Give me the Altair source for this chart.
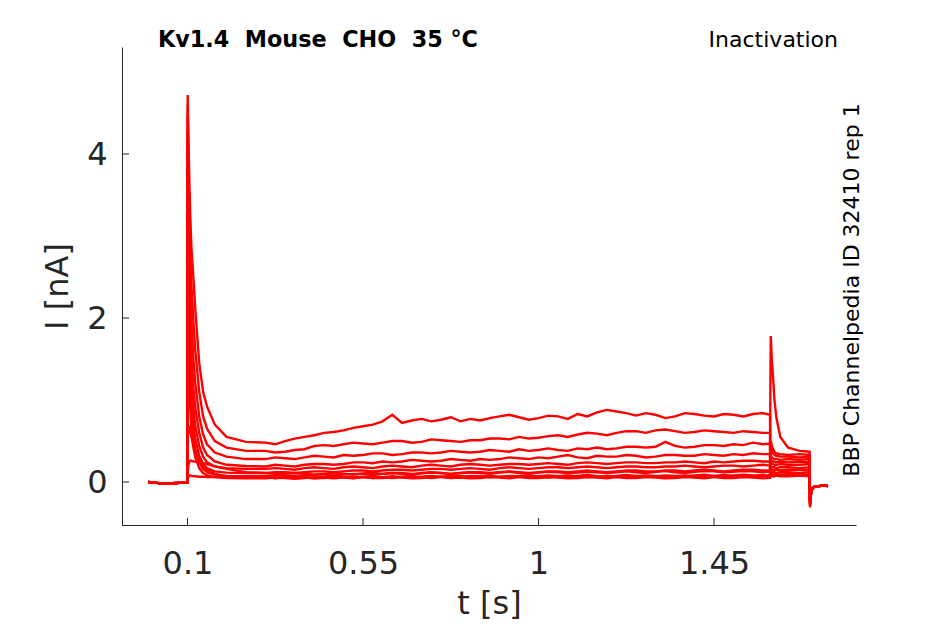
import altair as alt
import pandas as pd

# ---------------- data ----------------
SWEEPS = ["s1", "s2", "s3", "s4", "s5", "s6", "s7", "s8", "s9", "s10", "s11"]

# holding level before the prepulse (same for every sweep)
T_PRE = [0.0, 0.02, 0.04, 0.06, 0.08, 0.0995]
PRE = [0.0, -0.01, -0.02, -0.015, -0.01, -0.01]

# prepulse onset transient
T_ON = [0.1005, 0.102, 0.104, 0.107, 0.11, 0.115, 0.12, 0.13, 0.14, 0.15, 0.17, 0.2, 0.25]
ON = {
    "s1": [4.72, 4.30, 3.80, 3.25, 2.85, 2.50, 2.10, 1.45, 1.10, 0.92, 0.70, 0.55, 0.49],
    "s2": [4.60, 4.00, 3.40, 2.80, 2.40, 1.95, 1.60, 1.10, 0.80, 0.65, 0.50, 0.42, 0.38],
    "s3": [4.45, 3.70, 3.00, 2.40, 1.95, 1.50, 1.20, 0.80, 0.58, 0.46, 0.36, 0.31, 0.28],
    "s4": [4.30, 3.40, 2.60, 2.00, 1.55, 1.15, 0.90, 0.60, 0.42, 0.33, 0.25, 0.21, 0.195],
    "s5": [4.10, 3.10, 2.30, 1.65, 1.25, 0.90, 0.68, 0.44, 0.31, 0.24, 0.19, 0.17, 0.16],
    "s6": [3.80, 2.80, 2.00, 1.40, 1.00, 0.70, 0.52, 0.32, 0.22, 0.17, 0.13, 0.115, 0.11],
    "s7": [3.30, 2.40, 1.70, 1.15, 0.80, 0.55, 0.40, 0.24, 0.16, 0.12, 0.09, 0.075, 0.07],
    "s8": [2.60, 1.90, 1.35, 0.90, 0.62, 0.42, 0.30, 0.17, 0.11, 0.08, 0.06, 0.05, 0.045],
    "s9": [0.50, 0.64, 0.66, 0.62, 0.55, 0.45, 0.37, 0.26, 0.19, 0.15, 0.10, 0.07, 0.06],
    "s10": [0.12, 0.20, 0.24, 0.26, 0.26, 0.25, 0.25, 0.24, 0.23, 0.22, 0.19, 0.16, 0.12],
    "s11": [0.03, 0.06, 0.08, 0.08, 0.075, 0.07, 0.07, 0.065, 0.065, 0.06, 0.06, 0.06, 0.06],
}

# prepulse plateau
T_PLAT = [0.300, 0.325, 0.350, 0.375, 0.400, 0.425, 0.450, 0.475, 0.500, 0.525,
          0.550, 0.575, 0.600, 0.625, 0.650, 0.675, 0.700, 0.725, 0.750, 0.775,
          0.800, 0.825, 0.850, 0.875, 0.900, 0.925, 0.950, 0.975, 1.000, 1.025,
          1.050, 1.075, 1.100, 1.125, 1.150, 1.175, 1.200, 1.225, 1.250, 1.275,
          1.300, 1.325, 1.350, 1.375, 1.400, 1.425, 1.450, 1.475, 1.500, 1.525,
          1.550, 1.575, 1.5935]
PLAT = {
    "s1": [.48, .46, .50, .53, .55, .57, .60, .61, .63, .66, .68, .70, .74, .82, .72, .75,
           .77, .74, .76, .79, .74, .77, .75, .78, .80, .82, .79, .76, .78, .81, .80, .77,
           .83, .80, .85, .88, .86, .84, .81, .84, .82, .78, .80, .84, .83, .81, .80, .83,
           .82, .80, .83, .84, .82],
    "s2": [.38, .36, .37, .39, .40, .44, .45, .44, .46, .48, .47, .46, .48, .50, .50, .48,
           .49, .52, .51, .50, .49, .51, .51, .53, .53, .52, .55, .53, .54, .56, .57, .55,
           .58, .60, .59, .57, .60, .62, .62, .60, .63, .64, .62, .60, .61, .63, .62, .61,
           .60, .62, .61, .60, .60],
    "s3": [.28, .30, .29, .28, .30, .32, .31, .30, .33, .32, .33, .35, .35, .33, .34, .36,
           .36, .35, .36, .38, .37, .36, .37, .39, .38, .37, .40, .38, .39, .41, .39, .38,
           .41, .40, .42, .40, .41, .43, .43, .42, .43, .49, .44, .42, .43, .45, .45, .44,
           .46, .45, .48, .46, .47],
    "s4": [.19, .21, .20, .19, .21, .22, .22, .21, .22, .24, .24, .23, .25, .24, .25, .27,
           .26, .25, .26, .28, .27, .26, .28, .27, .28, .30, .29, .28, .30, .29, .31, .33,
           .30, .29, .32, .31, .31, .33, .32, .30, .31, .33, .33, .32, .32, .34, .33, .32,
           .34, .33, .35, .34, .34],
    "s5": [.16, .17, .16, .15, .17, .18, .17, .16, .18, .19, .18, .17, .19, .20, .19, .18,
           .20, .21, .20, .19, .21, .22, .21, .20, .21, .22, .22, .21, .22, .23, .22, .21,
           .23, .24, .23, .22, .23, .24, .24, .23, .23, .24, .24, .25, .24, .23, .25, .24,
           .25, .26, .26, .25, .25],
    "s6": [.11, .12, .12, .11, .12, .13, .13, .12, .13, .14, .14, .13, .14, .15, .15, .14,
           .15, .16, .16, .15, .16, .17, .16, .15, .17, .18, .17, .16, .17, .18, .18, .17,
           .18, .19, .18, .17, .18, .19, .19, .18, .18, .19, .19, .20, .19, .18, .19, .20,
           .20, .19, .20, .21, .20],
    "s7": [.07, .08, .08, .07, .08, .09, .09, .08, .09, .10, .10, .09, .10, .11, .10, .09,
           .11, .12, .11, .10, .11, .12, .12, .11, .12, .13, .12, .11, .12, .13, .13, .12,
           .13, .14, .13, .12, .13, .14, .14, .13, .13, .14, .14, .13, .14, .15, .14, .13,
           .14, .15, .15, .14, .14],
    "s8": [.045, .055, .05, .04, .05, .06, .055, .045, .055, .065, .06, .05, .06, .07, .06,
           .05, .065, .075, .065, .055, .065, .075, .07, .06, .065, .075, .07, .06, .07,
           .08, .07, .06, .075, .085, .07, .06, .075, .085, .075, .065, .07, .08, .075,
           .065, .08, .09, .075, .065, .08, .09, .08, .07, .08],
    "s9": [.06, .05, .06, .07, .055, .045, .06, .07, .06, .05, .065, .075, .06, .05, .065,
           .075, .06, .05, .065, .075, .07, .06, .065, .075, .065, .055, .07, .08, .065,
           .055, .07, .08, .07, .06, .065, .075, .07, .06, .07, .08, .075, .065, .07, .08,
           .07, .06, .075, .085, .07, .06, .075, .085, .07],
    "s10": [.11, .10, .10, .11, .10, .09, .10, .11, .10, .09, .105, .115, .10, .11, .11,
            .10, .105, .115, .11, .10, .11, .12, .11, .10, .115, .125, .11, .10, .115,
            .125, .12, .11, .115, .125, .12, .11, .12, .13, .12, .11, .125, .135, .12,
            .11, .125, .135, .13, .12, .125, .135, .13, .12, .13],
    "s11": [.06, .045, .055, .065, .06, .045, .05, .06, .055, .045, .06, .05, .05, .06,
            .055, .045, .05, .06, .06, .05, .055, .045, .05, .06, .055, .045, .06, .05,
            .05, .06, .055, .045, .05, .06, .055, .045, .06, .05, .05, .06, .055, .045,
            .05, .06, .055, .045, .06, .05, .05, .06, .055, .045, .05],
}

# test pulse
T_TEST = [1.5945, 1.5955, 1.598, 1.601, 1.605, 1.61, 1.62, 1.64, 1.67, 1.695]
TEST = {
    "s1": [0.07, 0.07, 0.08, 0.07, 0.07, 0.08, 0.07, 0.07, 0.08, 0.07],
    "s2": [0.09, 0.09, 0.10, 0.09, 0.09, 0.10, 0.09, 0.10, 0.09, 0.09],
    "s3": [0.11, 0.12, 0.11, 0.12, 0.12, 0.11, 0.12, 0.12, 0.11, 0.12],
    "s4": [0.14, 0.15, 0.15, 0.14, 0.15, 0.15, 0.14, 0.15, 0.15, 0.14],
    "s5": [0.17, 0.19, 0.18, 0.18, 0.18, 0.17, 0.18, 0.18, 0.17, 0.18],
    "s6": [0.20, 0.23, 0.22, 0.22, 0.21, 0.21, 0.22, 0.21, 0.21, 0.22],
    "s7": [0.22, 0.27, 0.26, 0.25, 0.25, 0.24, 0.25, 0.24, 0.25, 0.24],
    "s8": [0.25, 0.32, 0.30, 0.29, 0.28, 0.28, 0.27, 0.28, 0.27, 0.28],
    "s9": [0.30, 0.42, 0.38, 0.35, 0.33, 0.32, 0.31, 0.31, 0.30, 0.31],
    "s10": [0.35, 0.50, 0.45, 0.40, 0.37, 0.35, 0.34, 0.33, 0.34, 0.33],
    "s11": [1.20, 1.78, 1.50, 1.30, 1.00, 0.78, 0.55, 0.42, 0.38, 0.37],
}

# return to holding
T_POST = [1.696, 1.699, 1.703, 1.71, 1.72, 1.73, 1.742]
DIP = {"s1": -0.20, "s2": -0.21, "s3": -0.22, "s4": -0.23, "s5": -0.24, "s6": -0.25,
       "s7": -0.26, "s8": -0.27, "s9": -0.28, "s10": -0.29, "s11": -0.31}
POST_TAIL = [-0.12, -0.07, -0.05, -0.05, -0.04, -0.05]

X_TICKS = [0.1, 0.55, 1, 1.45]
Y_TICKS = [0, 2, 4]
X_DOMAIN = [-0.068, 1.814]
Y_DOMAIN = [-0.524, 5.305]

TITLE = "Kv1.4\u00a0\u00a0Mouse\u00a0\u00a0CHO\u00a0\u00a035 \u00b0C"
PROTOCOL = "Inactivation"
SOURCE = "BBP Channelpedia ID 32410 rep 1"

# ---------------- build table ----------------
rows = []
times = T_PRE + T_ON + T_PLAT + T_TEST + T_POST
for s in SWEEPS:
    vals = PRE + ON[s] + PLAT[s] + TEST[s] + [DIP[s]] + POST_TAIL
    assert len(vals) == len(times), (s, len(vals), len(times))
    for t, v in zip(times, vals):
        rows.append({"sweep": s, "t": t, "i": v})
df = pd.DataFrame(rows)

W, H = 734, 478
FONT = "DejaVu Sans"
AX = "#262626"

xs = alt.Scale(domain=X_DOMAIN, nice=False, zero=False)
ys = alt.Scale(domain=Y_DOMAIN, nice=False, zero=False)

x_axis = alt.Axis(values=X_TICKS, labelExpr="datum.value", ticks=False,
                  labelPadding=23, titleY=88, titleBaseline="alphabetic")
y_axis = alt.Axis(values=Y_TICKS, ticks=False, labelPadding=15,
                  titleX=-55, titleBaseline="alphabetic")

lines = alt.Chart(df).mark_line(color="#ff0000", strokeWidth=2.4).encode(
    x=alt.X("t:Q", scale=xs, title="t [s]", axis=x_axis),
    y=alt.Y("i:Q", scale=ys, title="I [nA]", axis=y_axis),
    detail="sweep:N",
    order="t:Q",
)

xt = alt.Chart(pd.DataFrame({"t": X_TICKS})).mark_rule(color=AX, strokeWidth=1).encode(
    x=alt.X("t:Q", scale=xs, title="t [s]", axis=x_axis), y=alt.value(H), y2=alt.value(H - 7))
yt = alt.Chart(pd.DataFrame({"i": Y_TICKS})).mark_rule(color=AX, strokeWidth=1).encode(
    y=alt.Y("i:Q", scale=ys, title="I [nA]", axis=y_axis), x=alt.value(0), x2=alt.value(7))

title_t = alt.Chart(pd.DataFrame({"txt": [TITLE]})).mark_text(
    font=FONT, fontSize=22.3, fontWeight="bold", align="left", baseline="alphabetic",
    color="black").encode(text="txt:N", x=alt.value(36), y=alt.value(0))
prot_t = alt.Chart(pd.DataFrame({"txt": [PROTOCOL]})).mark_text(
    font=FONT, fontSize=22, align="right", baseline="alphabetic",
    color="black").encode(text="txt:N", x=alt.value(716), y=alt.value(0))
src_t = alt.Chart(pd.DataFrame({"txt": [SOURCE]})).mark_text(
    font=FONT, fontSize=22, align="center", baseline="alphabetic", angle=270,
    color="black").encode(text="txt:N", x=alt.value(737), y=alt.value(243))

chart = alt.layer(lines, xt, yt, title_t, prot_t, src_t).properties(
    width=W, height=H,
    autosize=alt.AutoSizeParams(type="none"),
    padding={"left": 114, "top": 39, "right": 65, "bottom": 97},
).configure_view(stroke=None).configure_axis(
    grid=False, domainColor=AX, domainWidth=1, labelColor=AX, titleColor=AX,
    labelFont=FONT, titleFont=FONT, labelFontSize=32, titleFontSize=32,
    titleFontWeight="normal",
)

chart.save("out.html", embed_options={"renderer": "svg", "actions": False})
